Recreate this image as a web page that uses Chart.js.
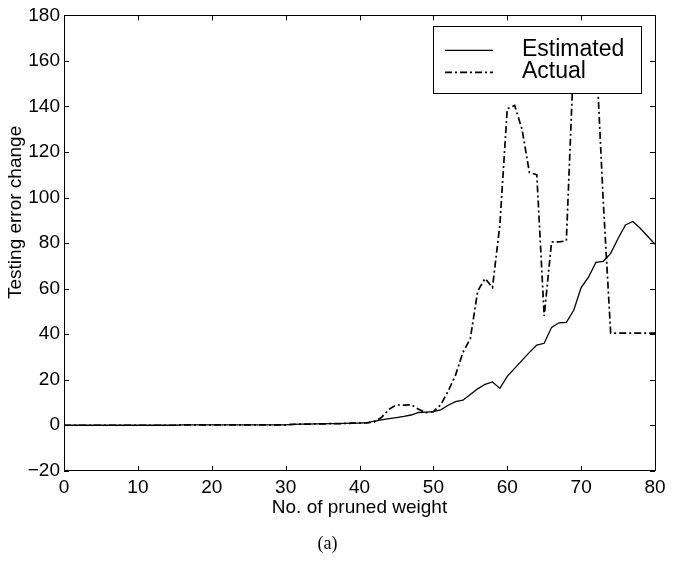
<!DOCTYPE html>
<html>
<head>
<meta charset="utf-8">
<script src="https://cdn.jsdelivr.net/npm/chart.js@4/dist/chart.umd.min.js"></script>
<style>
  html, body { margin: 0; padding: 0; background: #ffffff; }
  #wrap { width: 681px; height: 561px; }
</style>
</head>
<body>
<div id="wrap"><canvas id="c" width="681" height="561"></canvas></div>
<script>
// ---- data ----
const xValues = [
  0,1,2,3,4,5,6,7,8,9,10,11,12,13,14,15,16,17,18,19,20,
  21,22,23,24,25,26,27,28,29,30,31,32,33,34,35,36,37,38,39,40,
  41,42,43,44,45,46,47,48,49,50,51,52,53,54,55,56,57,58,59,60,
  61,62,63,64,65,66,67,68,69,70,71,72,73,74,75,76,77,78,79,80
];
const estimated = [
  0,0,0,0,0,0,0,0,0,0,0,0,0,0,0,0,0.2,0.2,0.2,0.2,0.2,
  0.2,0.2,0.2,0.2,0.2,0.2,0.2,0.2,0.2,0.2,0.4,0.5,0.5,0.6,0.6,0.7,0.7,0.8,0.9,1.0,
  1.2,1.8,2.4,2.9,3.4,3.9,4.5,5.6,5.8,6.0,6.8,8.8,10.4,11.0,13.5,16.0,18.0,19.0,16.2,21.5,
  25.0,28.5,32.0,35.2,36.0,43.0,45.0,45.2,50.5,60.5,65.0,71.5,72.0,75.5,82.0,88.0,89.5,86.5,83.0,79.5
];
const actual = [
  0,0,0,0,0,0,0,0,0,0,0,0,0,0,0,0,0.2,0.2,0.2,0.2,0.2,
  0.2,0.2,0.2,0.2,0.2,0.2,0.2,0.2,0.2,0.2,0.4,0.5,0.5,0.6,0.6,0.7,0.7,0.8,0.9,1.0,
  1.0,1.5,3.5,7.0,9.0,8.8,9.0,7.0,5.5,6.0,9.0,15.0,22.0,32.0,38.0,59.0,64.5,60.5,88.0,139.0,
  140.5,130.0,111.0,110.0,48.0,80.5,80.5,81.0,162.0,168.0,170.0,166.0,98.0,40.5,40.5,40.5,40.5,40.5,40.5,40.5
];
const seriesNames = ["Estimated", "Actual"];
const xTicks = [0,10,20,30,40,50,60,70,80];
const yTicks = [-20,0,20,40,60,80,100,120,140,160,180];
const xTitle = "No. of pruned weight";
const yTitle = "Testing error change";
const captionText = "(a)";

// ---- styling ----
const SANS = "'Liberation Sans', Arial, Helvetica, sans-serif";
const SERIF = "'Liberation Serif', 'Times New Roman', serif";
const DASHDOT = [7, 3, 2, 3];
const fmt = (v) => (v < 0 ? "\u2212" + Math.abs(v) : String(v));

const toPoints = (ys) => xValues.map((x, i) => ({ x: x, y: ys[i] }));

// inward tick marks and full box, MATLAB style
const boxPlugin = {
  id: 'boxTicks',
  afterDatasetsDraw(chart) {
    const { ctx, chartArea: a, scales } = chart;
    ctx.save();
    ctx.strokeStyle = '#000';
    ctx.lineWidth = 1;
    ctx.beginPath();
    ctx.rect(Math.round(a.left) + 0.5, Math.round(a.top) + 0.5,
             Math.round(a.right - a.left), Math.round(a.bottom - a.top));
    ctx.stroke();
    const L = 5;
    ctx.beginPath();
    xTicks.forEach(v => {
      const px = Math.round(scales.x.getPixelForValue(v)) + 0.5;
      ctx.moveTo(px, a.bottom); ctx.lineTo(px, a.bottom - L);
      ctx.moveTo(px, a.top); ctx.lineTo(px, a.top + L);
    });
    yTicks.forEach(v => {
      const py = Math.round(scales.y.getPixelForValue(v)) + 0.5;
      ctx.moveTo(a.left, py); ctx.lineTo(a.left + L, py);
      ctx.moveTo(a.right, py); ctx.lineTo(a.right - L, py);
    });
    ctx.stroke();
    ctx.restore();
  }
};

// y-axis title, placed a little above the axis middle as in the reference
const yTitlePlugin = {
  id: 'yTitle',
  afterDraw(chart) {
    const { ctx, chartArea: a } = chart;
    ctx.save();
    ctx.translate(16, a.top + 197);
    ctx.rotate(-Math.PI / 2);
    ctx.font = "19px " + SANS;
    ctx.fillStyle = '#000';
    ctx.textAlign = 'center';
    ctx.textBaseline = 'middle';
    ctx.fillText(yTitle, 0, 0);
    ctx.restore();
  }
};

// legend box drawn inside the plot, over the lines
const legendPlugin = {
  id: 'innerLegend',
  afterDatasetsDraw(chart) {
    const { ctx, chartArea: a } = chart;
    const w = 208, h = 67;
    const x0 = a.right - 14 - w, y0 = a.top + 11;
    ctx.save();
    ctx.fillStyle = '#fff';
    ctx.fillRect(x0, y0, w, h);
    ctx.strokeStyle = '#000';
    ctx.lineWidth = 1;
    ctx.strokeRect(Math.round(x0) + 0.5, Math.round(y0) + 0.5, w, h);
    const rows = [
      { y: y0 + 24, dash: [], lw: 1.3 },
      { y: y0 + 46, dash: DASHDOT, lw: 1.6 }
    ];
    ctx.font = "23px " + SANS;
    ctx.fillStyle = '#000';
    ctx.textBaseline = 'middle';
    ctx.textAlign = 'left';
    rows.forEach((r, i) => {
      ctx.setLineDash(r.dash);
      ctx.lineWidth = r.lw;
      ctx.beginPath();
      ctx.moveTo(x0 + 12, r.y);
      ctx.lineTo(x0 + 60, r.y);
      ctx.stroke();
      ctx.setLineDash([]);
      ctx.fillText(seriesNames[i], x0 + 89, r.y - 1);
    });
    ctx.restore();
  }
};

new Chart(document.getElementById('c'), {
  type: 'line',
  data: {
    datasets: [
      {
        label: seriesNames[0],
        data: toPoints(estimated),
        borderColor: '#000',
        borderWidth: 1.3,
        pointRadius: 0,
        tension: 0,
        fill: false
      },
      {
        label: seriesNames[1],
        data: toPoints(actual),
        borderColor: '#000',
        borderWidth: 1.7,
        borderDash: DASHDOT,
        pointRadius: 0,
        tension: 0,
        fill: false
      }
    ]
  },
  options: {
    responsive: false,
    animation: false,
    events: [],
    layout: { padding: { left: 0, right: 26, top: 14, bottom: 0 } },
    plugins: {
      legend: { display: false },
      tooltip: { enabled: false },
      title: {
        display: true,
        position: 'bottom',
        text: captionText,
        color: '#000',
        font: { family: SERIF, size: 18, weight: 'normal' },
        padding: { top: 3, bottom: 6 }
      }
    },
    scales: {
      x: {
        type: 'linear',
        min: 0, max: 80,
        afterBuildTicks: (s) => { s.ticks = xTicks.map(v => ({ value: v })); },
        afterFit: (s) => { s.height = 59.6; },
        grid: { display: false, drawTicks: false },
        border: { display: false },
        ticks: { color: '#000', font: { family: SANS, size: 19 }, padding: 6, maxRotation: 0, callback: fmt },
        title: {
          display: true, text: xTitle, color: '#000',
          font: { family: SANS, size: 19 },
          padding: { top: 0, bottom: 11 }
        }
      },
      y: {
        type: 'linear',
        min: -20, max: 180,
        afterBuildTicks: (s) => { s.ticks = yTicks.map(v => ({ value: v })); },
        afterFit: (s) => { s.width = 64; },
        grid: { display: false, drawTicks: false },
        border: { display: false },
        ticks: { color: '#000', font: { family: SANS, size: 19 }, padding: 4, callback: fmt },
        title: { display: false }
      }
    }
  },
  plugins: [boxPlugin, legendPlugin, yTitlePlugin]
});
</script>
</body>
</html>
